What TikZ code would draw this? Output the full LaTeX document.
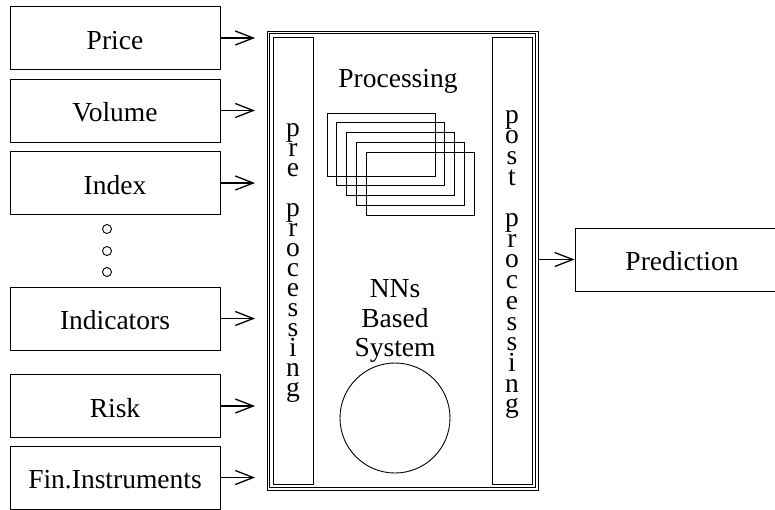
\documentclass[tikz,border=0pt]{standalone}
\usepackage{fontspec}
\setmainfont{Liberation Serif}
\usetikzlibrary{arrows.meta}

\tikzset{
  txt/.style={font=\fontsize{27.5}{30}\selectfont, inner sep=0pt},
  inbox/.style={draw, line width=1pt, rectangle, inner sep=0pt,
                minimum width=210pt, minimum height=63pt, text height=22pt, text depth=0pt,
                font=\fontsize{27.5}{30}\selectfont},
  bar/.style={draw, line width=0.9pt, rectangle, inner sep=0pt,
              minimum width=40pt, minimum height=447pt},
  arr/.style={line width=1.2pt, -{Straight Barb[length=18pt,width=14pt,line width=1.3pt]}},
  dot/.style={draw, circle, line width=0.9pt, inner sep=0pt, minimum size=9pt},
  letter/.style={txt, anchor=base, text height=12pt, text depth=0pt},
  frame/.style={draw, line width=0.9pt}
}

\begin{document}
\begin{tikzpicture}[x=1pt, y=-1pt]
\useasboundingbox (0,0) rectangle (775,509);

% input boxes
\node[inbox] (price) at (115,38)    {Price};
\node[inbox] (vol)   at (115,110.5) {Volume};
\node[inbox] (idx)   at (115,183)   {Index};
\node[inbox] (ind)   at (115,318.5) {Indicators};
\node[inbox] (risk)  at (115,406)   {Risk};
\node[inbox] (fin)   at (115,477.5) {Fin.Instruments};

% ellipsis dots
\node[dot] (d1) at (107,229) {};
\node[dot] (d2) at (107,251) {};
\node[dot] (d3) at (107,272) {};

% system frame: outer line plus an inset second line
\node[frame, rectangle, inner sep=0pt, minimum width=271pt, minimum height=459pt] (sys) at (402.5,260.5) {};
\draw[frame] ([shift={(3,3)}]sys.north west) rectangle ([shift={(-3,-3)}]sys.south east);

% pre / post processing bars
\node[bar] (pre)  at (293,260.5) {};
\node[bar] (post) at (512,260.5) {};

\foreach \c/\r [count=\i] in {p/0,r/1,e/2,p/4,r/5,o/6,c/7,e/8,s/9,s/10,i/11,n/12,g/13}
  \node[letter] (pre\i) at (293,136+20*\r) {\c};
\foreach \c/\r [count=\i] in {p/0,o/1,s/2,t/3,p/5,r/6,o/7,c/8,e/9,s/10,s/11,i/12,n/13,g/14}
  \node[letter] (post\i) at (512,123+20.7*\r) {\c};

% processing layers
\node[letter] (proc) at (398,87) {Processing};
\foreach \k in {0,...,4}
  \draw[line width=0.9pt] (327+9.75*\k,113+9.75*\k) rectangle ++(108,63);

% network
\node[txt, align=center, font=\fontsize{27.5}{29.5}\selectfont] (nns) at (395,321) {NNs\\Based\\System};
\node[draw, circle, line width=0.9pt, inner sep=0pt, minimum size=110pt] (net) at (395,418) {};

% output
\node[inbox, minimum width=214pt] (pred) at (682,259.5) {Prediction};

% connectors
\foreach \n in {price,vol,idx,ind,risk,fin}
  \draw[arr, shorten >=11.5pt] (\n.east) -- (\n.east -| sys.west);
\draw[arr] (sys.east |- pred.west) -- (pred.west);
\end{tikzpicture}
\end{document}
